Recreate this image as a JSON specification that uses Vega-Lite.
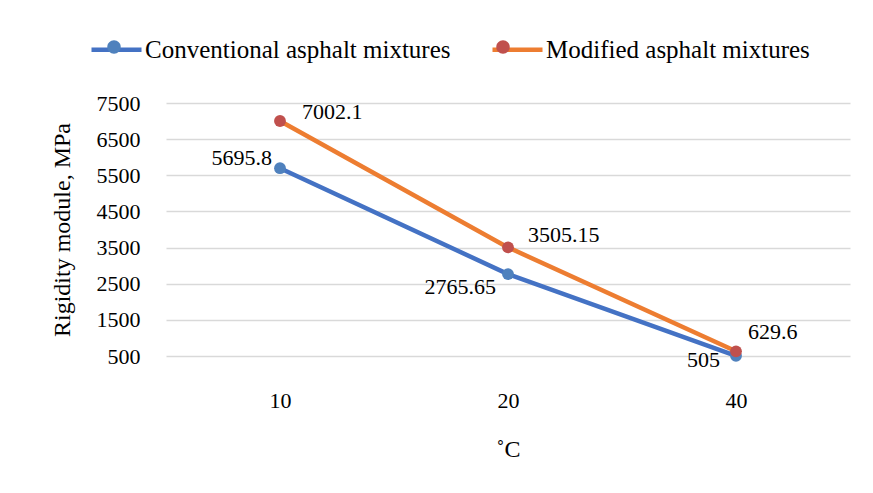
{
  "$schema": "https://vega.github.io/schema/vega-lite/v6.json",
  "width": 684,
  "height": 253,
  "autosize": {"type": "none"},
  "padding": {"left": 166, "top": 103, "right": 23, "bottom": 137},
  "background": "white",
  "config": {
    "view": {"stroke": null},
    "font": "Liberation Serif",
    "text": {"font": "Liberation Serif"},
    "axis": {"labelColor": "#000000", "titleColor": "#000000", "titleFontWeight": "normal", "labelFont": "Liberation Serif", "titleFont": "Liberation Serif"},
    "legend": {"labelFont": "Liberation Serif", "labelColor": "#000000"}
  },
  "data": {
    "values": [
      {"series": "Conventional asphalt mixtures", "temp": 10, "value": 5695.8},
      {"series": "Conventional asphalt mixtures", "temp": 20, "value": 2765.65},
      {"series": "Conventional asphalt mixtures", "temp": 40, "value": 505},
      {"series": "Modified asphalt mixtures", "temp": 10, "value": 7002.1},
      {"series": "Modified asphalt mixtures", "temp": 20, "value": 3505.15},
      {"series": "Modified asphalt mixtures", "temp": 40, "value": 629.6}
    ]
  },
  "encoding": {
    "x": {
      "field": "temp", "type": "ordinal", "sort": [10, 20, 40],
      "scale": {"type": "point", "padding": 0.5},
      "axis": {
        "title": "˚C", "titleFontSize": 24, "titlePadding": 26,
        "labelFontSize": 22, "labelAngle": 0, "labelPadding": 34,
        "domain": false, "ticks": false, "grid": false
      }
    },
    "y": {
      "field": "value", "type": "quantitative",
      "scale": {"domain": [500, 7500], "nice": false, "zero": false},
      "axis": {
        "title": "Rigidity module, MPa", "titleFontSize": 24, "titlePadding": 22,
        "values": [500, 1500, 2500, 3500, 4500, 5500, 6500, 7500],
        "format": "d",
        "labelFontSize": 22, "labelPadding": 26,
        "domain": false, "ticks": false,
        "grid": true, "gridColor": "#D9D9D9", "gridWidth": 1.5
      }
    }
  },
  "layer": [
    {
      "transform": [{"filter": "datum.series === 'Conventional asphalt mixtures'"}],
      "mark": {"type": "line", "strokeWidth": 4.5},
      "encoding": {
        "stroke": {
          "field": "series", "type": "nominal",
          "scale": {"domain": ["Conventional asphalt mixtures", "Modified asphalt mixtures"], "range": ["#4472C4", "#ED7D31"]},
          "legend": {
            "title": null, "orient": "none", "direction": "horizontal",
            "legendX": -77, "legendY": -81, "padding": 0,
            "symbolType": "stroke", "symbolSize": 2500, "symbolStrokeWidth": 4.5,
            "labelFontSize": 25, "labelOffset": 1, "labelLimit": 600, "columnPadding": 32
          }
        }
      }
    },
    {
      "transform": [{"filter": "datum.series === 'Conventional asphalt mixtures'"}],
      "mark": {"type": "point", "filled": true, "size": 140, "opacity": 1, "shape": "circle"},
      "encoding": {
        "fill": {
          "field": "series", "type": "nominal",
          "scale": {"range": ["#4F81BD", "#C0504D"]},
          "legend": {
            "title": null, "orient": "none", "direction": "horizontal",
            "legendX": -77, "legendY": -81, "padding": 0,
            "symbolType": "M-0.27,0a0.27,0.27 0 1,0 0.54,0a0.27,0.27 0 1,0 -0.54,0Z",
            "symbolSize": 2500, "symbolStrokeWidth": 0, "symbolOpacity": 1,
            "labelFontSize": 25, "labelOffset": 1, "labelLimit": 600, "columnPadding": 32,
            "labelOpacity": 0
          }
        }
      }
    },
    {
      "transform": [{"filter": "datum.series === 'Modified asphalt mixtures'"}],
      "mark": {"type": "line", "strokeWidth": 4.5},
      "encoding": {"stroke": {"field": "series", "type": "nominal", "legend": null}}
    },
    {
      "transform": [{"filter": "datum.series === 'Modified asphalt mixtures'"}],
      "mark": {"type": "point", "filled": true, "size": 140, "opacity": 1, "shape": "circle"},
      "encoding": {"fill": {"field": "series", "type": "nominal", "legend": null}}
    },
    {
      "transform": [{"filter": "datum.series === 'Conventional asphalt mixtures' && datum.temp === 10"}],
      "mark": {"type": "text", "font": "Liberation Serif", "align": "right", "baseline": "middle", "dx": -8, "dy": -10, "fontSize": 22, "color": "#000000"},
      "encoding": {"text": {"field": "value", "type": "nominal"}}
    },
    {
      "transform": [{"filter": "datum.series === 'Modified asphalt mixtures' && datum.temp === 10"}],
      "mark": {"type": "text", "font": "Liberation Serif", "align": "left", "baseline": "middle", "dx": 22, "dy": -9, "fontSize": 22, "color": "#000000"},
      "encoding": {"text": {"field": "value", "type": "nominal"}}
    },
    {
      "transform": [{"filter": "datum.series === 'Modified asphalt mixtures' && datum.temp === 20"}],
      "mark": {"type": "text", "font": "Liberation Serif", "align": "left", "baseline": "middle", "dx": 20, "dy": -12, "fontSize": 22, "color": "#000000"},
      "encoding": {"text": {"field": "value", "type": "nominal"}}
    },
    {
      "transform": [{"filter": "datum.series === 'Conventional asphalt mixtures' && datum.temp === 20"}],
      "mark": {"type": "text", "font": "Liberation Serif", "align": "right", "baseline": "middle", "dx": -12, "dy": 13, "fontSize": 22, "color": "#000000"},
      "encoding": {"text": {"field": "value", "type": "nominal"}}
    },
    {
      "transform": [{"filter": "datum.series === 'Modified asphalt mixtures' && datum.temp === 40"}],
      "mark": {"type": "text", "font": "Liberation Serif", "align": "left", "baseline": "middle", "dx": 12, "dy": -19, "fontSize": 22, "color": "#000000"},
      "encoding": {"text": {"field": "value", "type": "nominal"}}
    },
    {
      "transform": [{"filter": "datum.series === 'Conventional asphalt mixtures' && datum.temp === 40"}],
      "mark": {"type": "text", "font": "Liberation Serif", "align": "right", "baseline": "middle", "dx": -16, "dy": 4, "fontSize": 22, "color": "#000000"},
      "encoding": {"text": {"field": "value", "type": "nominal"}}
    }
  ],
  "resolve": {"legend": {"stroke": "independent", "fill": "independent"}}
}
